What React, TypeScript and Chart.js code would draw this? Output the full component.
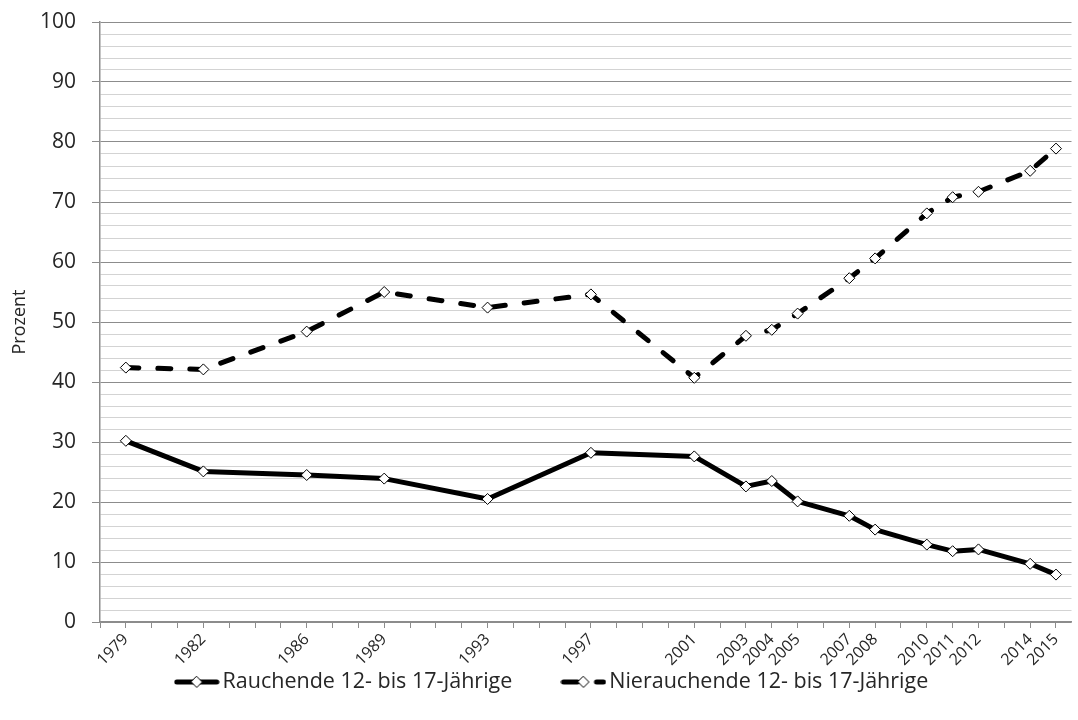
import React, { useEffect, useRef } from 'react';
import { Chart, registerables } from 'chart.js';

Chart.register(...registerables);

const years = [1979, 1982, 1986, 1989, 1993, 1997, 2001, 2003, 2004, 2005, 2007, 2008, 2010, 2011, 2012, 2014, 2015];
const smokers = [30.2, 25.1, 24.5, 23.9, 20.5, 28.2, 27.6, 22.6, 23.5, 20.1, 17.7, 15.4, 12.9, 11.8, 12.1, 9.7, 7.9];
const nonSmokers = [42.4, 42.1, 48.4, 55.0, 52.4, 54.6, 40.7, 47.7, 48.7, 51.4, 57.3, 60.6, 68.1, 70.8, 71.7, 75.2, 78.9];
const seriesLabels = ['Rauchende 12- bis 17-Jährige', 'Nierauchende 12- bis 17-Jährige'];
const yAxisTitle = 'Prozent';
const yMin = 0;
const yMax = 100;
const xMin = 1978;
const xMax = 2015.6;

const FONT = "'Open Sans', 'DejaVu Sans', sans-serif";
const TEXT = '#262626';
const MAJOR = '#8c8c8c';
const MINOR = '#d3d3d3';

function legendIcon(dashed: boolean): HTMLCanvasElement {
  const c = document.createElement('canvas');
  c.width = 46;
  c.height = 14;
  const ctx = c.getContext('2d')!;
  ctx.strokeStyle = '#000';
  ctx.lineWidth = 5;
  ctx.lineCap = 'round';
  ctx.beginPath();
  if (dashed) {
    ctx.moveTo(3, 7);
    ctx.lineTo(17, 7);
    ctx.moveTo(36, 7);
    ctx.lineTo(43, 7);
  } else {
    ctx.moveTo(3, 7);
    ctx.lineTo(43, 7);
  }
  ctx.stroke();
  const cx = 23, cy = 7, r = 5.5;
  ctx.beginPath();
  ctx.moveTo(cx, cy - r);
  ctx.lineTo(cx + r, cy);
  ctx.lineTo(cx, cy + r);
  ctx.lineTo(cx - r, cy);
  ctx.closePath();
  ctx.fillStyle = '#fff';
  ctx.fill();
  ctx.lineWidth = 1;
  ctx.strokeStyle = '#000';
  ctx.stroke();
  return c;
}

export default function App() {
  const ref = useRef<HTMLCanvasElement>(null);

  useEffect(() => {
    const icons = [legendIcon(false), legendIcon(true)];
    // trailing spaces widen the gap between the two legend entries
    const legendTexts = [seriesLabels[0] + '\u2003\u2003\u00A0\u2009', seriesLabels[1]];
    const chart = new Chart(ref.current!, {
      type: 'line',
      data: {
        datasets: [
          {
            label: seriesLabels[0],
            data: years.map((y, i) => ({ x: y, y: smokers[i] })),
            borderColor: '#000',
            borderWidth: 5,
            borderJoinStyle: 'round',
            borderCapStyle: 'round',
            tension: 0,
            pointStyle: 'rectRot',
            pointRadius: 5.5,
            pointBackgroundColor: '#fff',
            pointBorderColor: '#000',
            pointBorderWidth: 1,
          },
          {
            label: seriesLabels[1],
            data: years.map((y, i) => ({ x: y, y: nonSmokers[i] })),
            borderColor: '#000',
            borderWidth: 5,
            borderDash: [13, 19],
            borderJoinStyle: 'round',
            borderCapStyle: 'round',
            tension: 0,
            pointStyle: 'rectRot',
            pointRadius: 5.5,
            pointBackgroundColor: '#fff',
            pointBorderColor: '#000',
            pointBorderWidth: 1,
          },
        ],
      },
      options: {
        responsive: false,
        animation: false,
        devicePixelRatio: 1,
        layout: { padding: { top: 22, left: 33, right: 1, bottom: 17.25 } },
        font: { family: FONT },
        plugins: {
          tooltip: { enabled: false },
          legend: {
            position: 'bottom',
            labels: {
              usePointStyle: true,
              pointStyleWidth: 30,
              padding: 4,
              color: TEXT,
              font: { family: FONT, size: 21.5 },
              generateLabels: () =>
                legendTexts.map((t, i) => ({
                  text: t,
                  pointStyle: icons[i],
                  fillStyle: '#000',
                  strokeStyle: '#000',
                  lineWidth: 0,
                  hidden: false,
                  datasetIndex: i,
                  fontColor: TEXT,
                })),
            },
          },
        },
        scales: {
          x: {
            type: 'linear',
            min: xMin,
            max: xMax,
            afterBuildTicks: (scale: any) => {
              const t = [];
              for (let v = xMin; v <= 2015; v++) t.push({ value: v });
              scale.ticks = t;
            },
            afterFit: (scale: any) => {
              scale.height = 45.25;
              scale.paddingLeft = 0;
              scale.paddingRight = 0;
            },
            border: { color: MAJOR, width: 1.5 },
            grid: {
              drawOnChartArea: false,
              drawTicks: true,
              tickLength: 6,
              color: MAJOR,
            },
            ticks: {
              autoSkip: false,
              maxRotation: 45,
              minRotation: 45,
              padding: 2,
              color: TEXT,
              font: { family: FONT, size: 16 },
              callback: (v: any) => (years.includes(Number(v)) ? String(v) : ''),
            },
          },
          y: {
            min: yMin,
            max: yMax,
            afterFit: (scale: any) => {
              scale.width = 67;
              scale.paddingTop = 0;
              scale.paddingBottom = 0;
            },
            border: { color: MAJOR, width: 1.5 },
            grid: {
              color: (c: any) => (c.tick && c.tick.value % 10 === 0 ? MAJOR : MINOR),
              lineWidth: 1,
              tickLength: 8,
              tickColor: (c: any) => (c.tick && c.tick.value % 10 === 0 ? MAJOR : 'rgba(0,0,0,0)'),
            },
            ticks: {
              stepSize: 2,
              autoSkip: false,
              padding: 16,
              color: TEXT,
              font: { family: FONT, size: 21 },
              callback: (v: any) => (Number(v) % 10 === 0 ? String(v) : ''),
            },
            title: {
              display: true,
              text: yAxisTitle,
              color: TEXT,
              font: { family: FONT, size: 18 },
              padding: { top: -24, bottom: 0 },
            },
          },
        },
      },
    });
    return () => chart.destroy();
  }, []);

  return (
    <div style={{ position: 'absolute', left: 0, top: 0, width: 1078, height: 720, background: '#fff' }}>
      <canvas ref={ref} width={1078} height={720} style={{ display: 'block' }} />
    </div>
  );
}
